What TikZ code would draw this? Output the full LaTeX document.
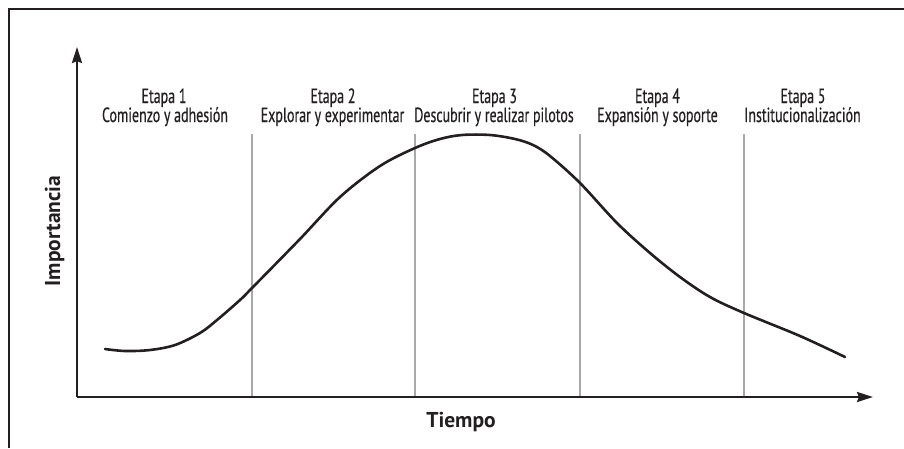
\documentclass[tikz,border=0pt]{standalone}
\usepackage{fontspec}
\setmainfont{PT Sans}
\newfontfamily\condfont[FakeStretch=0.68,FakeBold=0.4]{PT Sans}
\usetikzlibrary{arrows.meta}
\definecolor{ink}{HTML}{231F20}
\definecolor{sep}{HTML}{A7A9AC}
\tikzset{
  axisline/.style={draw=ink, line width=2.4pt, -{Stealth[length=16pt,width=10pt,inset=2pt]}},
  frameline/.style={draw=ink, line width=1.4pt},
  sepline/.style={draw=sep, line width=1.6pt},
  curveline/.style={draw=ink, line width=2.6pt, line cap=round},
  stagetxt/.style={font=\condfont\fontsize{20.5}{24}\selectfont, text=ink, inner sep=0pt, anchor=base},
  axistxt/.style={font=\bfseries\fontsize{21.5}{24}\selectfont, text=ink, inner sep=0pt, anchor=base}
}
\begin{document}
\begin{tikzpicture}[x=1pt,y=-1pt]
\useasboundingbox (0,0) rectangle (904,448);
% frame (top and left edges only visible)
\coordinate (fTL) at (9,9);
\coordinate (fTR) at (904,9);
\coordinate (fBL) at (9,448);
\draw[frameline] (fTR) -- (fTL) -- (fBL);
% separators
\foreach \x [count=\i] in {252,415,580,744}{
  \coordinate (st\i) at (\x,134);
  \coordinate (sb\i) at (\x,397);
  \draw[sepline] (st\i) -- (sb\i);
}
% axes
\coordinate (origin) at (77,397);
\coordinate (yend) at (77,47);
\coordinate (xend) at (873,397);
\draw[axisline] (origin) -- (yend);
\draw[axisline] (origin) -- (xend);
% curve
\draw[curveline] plot[smooth, tension=0.55] coordinates {
 (105,349) (125,351) (150,350) (175,345) (200,333) (217,320) (240,300)
 (252,288) (300,239) (340,197) (380,166) (415,148) (440,139) (462,135)
 (490,135) (515,139) (533,145) (550,156) (580,183) (617,223) (650,253)
 (680,277) (710,297) (744,313) (800,336) (845,357)};
% stage labels
\node[stagetxt] (e1) at (164,103) {Etapa 1};
\node[stagetxt] (d1) at (165,122) {Comienzo y adhesión};
\node[stagetxt] (e2) at (333,103) {Etapa 2};
\node[stagetxt] (d2) at (332.5,122) {Explorar y experimentar};
\node[stagetxt] (e3) at (494.5,103) {Etapa 3};
\node[stagetxt] (d3) at (494,122) {Descubrir y realizar pilotos};
\node[stagetxt] (e4) at (657.5,103) {Etapa 4};
\node[stagetxt] (d4) at (657.5,122) {Expansión y soporte};
\node[stagetxt] (e5) at (803,103) {Etapa 5};
\node[stagetxt] (d5) at (802.5,122) {Institucionalización};
% axis labels
\node[axistxt] (tl) at (461,427) {Tiempo};
\node[axistxt, rotate=90] (il) at (60,231) {Importancia};
\end{tikzpicture}
\end{document}
